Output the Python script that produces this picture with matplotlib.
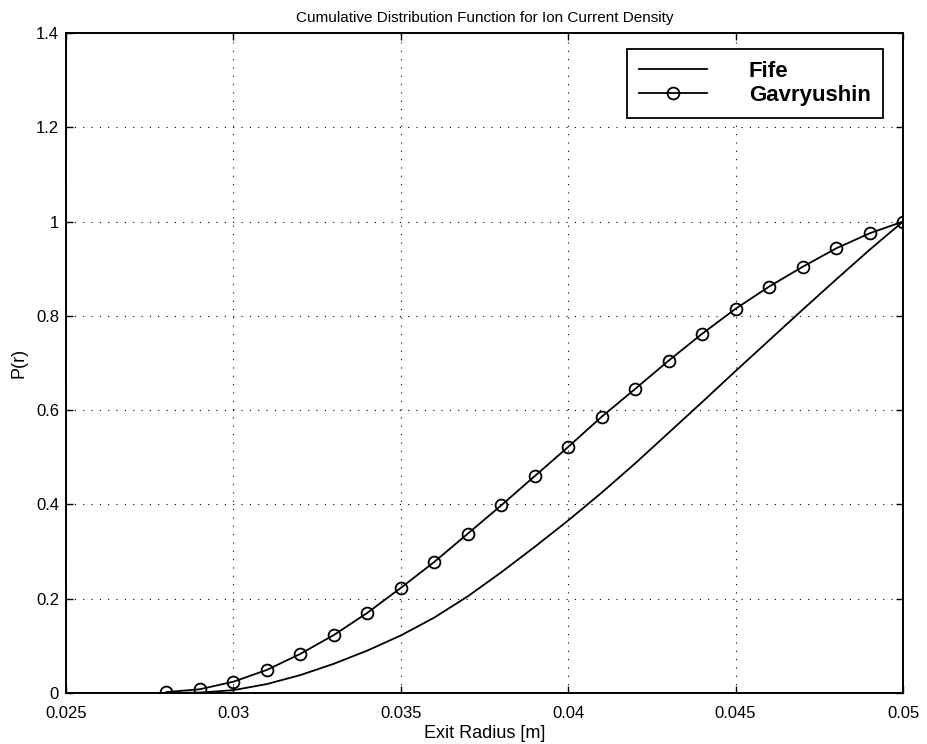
import numpy as np
import matplotlib
matplotlib.use("Agg")
import matplotlib.pyplot as plt
from matplotlib.lines import Line2D

plt.rcParams['font.family'] = ['Liberation Sans', 'DejaVu Sans']

# Exit radius grid [m]
r_fife = [0.027, 0.028, 0.029, 0.030, 0.031, 0.032, 0.033, 0.034, 0.035, 0.036,
          0.037, 0.038, 0.039, 0.040, 0.041, 0.042, 0.043, 0.044, 0.045, 0.046,
          0.047, 0.048, 0.049, 0.050]
p_fife = [0.000, 0.000, 0.001, 0.006, 0.019, 0.038, 0.062, 0.090, 0.122, 0.160,
          0.205, 0.256, 0.310, 0.366, 0.425, 0.487, 0.552, 0.617, 0.683, 0.748,
          0.813, 0.877, 0.940, 1.000]

r_gav = [0.028, 0.029, 0.030, 0.031, 0.032, 0.033, 0.034, 0.035, 0.036, 0.037,
         0.038, 0.039, 0.040, 0.041, 0.042, 0.043, 0.044, 0.045, 0.046, 0.047,
         0.048, 0.049, 0.050]
p_gav = [0.002, 0.008, 0.024, 0.049, 0.083, 0.123, 0.170, 0.223, 0.278, 0.338,
         0.398, 0.460, 0.522, 0.586, 0.645, 0.705, 0.762, 0.815, 0.862, 0.904,
         0.943, 0.975, 1.000]

x_ticks = [0.025, 0.03, 0.035, 0.04, 0.045, 0.05]
x_tick_labels = ['0.025', '0.03', '0.035', '0.04', '0.045', '0.05']
y_ticks = [0, 0.2, 0.4, 0.6, 0.8, 1.0, 1.2, 1.4]
y_tick_labels = ['0', '0.2', '0.4', '0.6', '0.8', '1', '1.2', '1.4']

W, H = 927, 744
fig = plt.figure(figsize=(W / 100, H / 100), dpi=100)
ax = fig.add_axes([66 / W, 1 - 693 / H, (903 - 66) / W, (693 - 33) / H])

lw = 1.3
ax.plot(r_fife, p_fife, color='black', lw=lw, solid_joinstyle='round')
ax.plot(r_gav, p_gav, color='black', lw=lw, marker='o', markersize=8.5,
        markerfacecolor='none', markeredgecolor='black', markeredgewidth=1.3)

ax.set_xlim(0.025, 0.05)
ax.set_ylim(0, 1.4)
ax.set_xticks(x_ticks)
ax.set_xticklabels(x_tick_labels)
ax.set_yticks(y_ticks)
ax.set_yticklabels(y_tick_labels)

ax.grid(True, color='black', linestyle=(0, (1, 6.5)), linewidth=0.8)
ax.tick_params(direction='in', length=5, width=1.0, top=True, right=True,
               labelsize=12, colors='black')
ax.tick_params(axis='x', pad=9)
ax.tick_params(axis='y', pad=5)
for s in ax.spines.values():
    s.set_linewidth(1.4)

ax.set_title('Cumulative Distribution Function for Ion Current Density',
             fontsize=11, pad=8)
ax.set_xlabel('Exit Radius [m]', fontsize=13, labelpad=3)
ax.set_ylabel('P(r)', fontsize=13, labelpad=6)

handles = [
    Line2D([], [], color='black', lw=lw),
    Line2D([], [], color='black', lw=lw, marker='o', markersize=8.5,
           markerfacecolor='none', markeredgewidth=1.3),
]
leg = ax.legend(handles, ['Fife', 'Gavryushin'], loc='upper right',
                bbox_to_anchor=((883 - 66) / (903 - 66), 1 - (49 - 33) / (693 - 33)),
                bbox_transform=ax.transAxes,
                prop={'size': 16, 'weight': 'bold'}, frameon=True, fancybox=False,
                framealpha=1, edgecolor='black', handlelength=3.05,
                handletextpad=1.9, labelspacing=0.11, borderpad=0.55,
                borderaxespad=0.0)
leg.get_frame().set_linewidth(1.3)

fig.savefig('out.png', dpi=100, facecolor='white')
